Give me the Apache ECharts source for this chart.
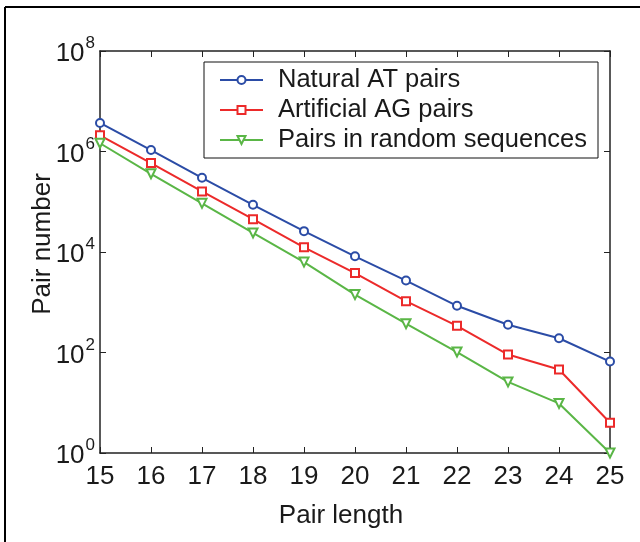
<!DOCTYPE html>
<html>
<head>
<meta charset="utf-8">
<script src="https://cdn.jsdelivr.net/npm/echarts@6/dist/echarts.min.js"></script>
<style>
  html, body { margin: 0; padding: 0; background: #fff; }
  #chart { width: 640px; height: 542px; }
</style>
</head>
<body>
<div id="chart"></div>
<script>
var pairLength = [15, 16, 17, 18, 19, 20, 21, 22, 23, 24, 25];
var naturalAT = [3.7e6, 1.07e6, 3.0e5, 8.7e4, 2.6e4, 8.2e3, 2.7e3, 850, 357, 192, 66];
var artificialAG = [2.1e6, 5.9e5, 1.6e5, 4.5e4, 1.24e4, 3.8e3, 1050, 340, 91, 46, 4];
var randomPairs = [1.46e6, 3.6e5, 9.3e4, 2.4e4, 6.3e3, 1.42e3, 375, 102, 26, 9.7, 1];
var seriesNames = ['Natural AT pairs', 'Artificial AG pairs', 'Pairs in random sequences'];

function toPoints(vals) {
    return pairLength.map(function (x, i) { return [x, vals[i]]; });
}

// 10^n style labels for the log axis
function powLabel(v) {
    var e = Math.round(Math.log(v) / Math.LN10);
    return '{b|10}{s|' + e + '}';
}

var font = 'Liberation Sans, Arial, Helvetica, sans-serif';
var axisCol = '#222';
var txtCol = '#1a1a1a';

var myChart = echarts.init(document.getElementById('chart'));
var option = {
    backgroundColor: '#fff',
    animation: false,
    textStyle: { fontFamily: font, color: txtCol },
    grid: { left: 100, right: 30, top: 51, bottom: 89 },
    legend: {
        data: seriesNames,
        orient: 'vertical',
        left: 204,
        top: 62,
        padding: [5, 11, 5, 15],
        itemGap: 4,
        itemWidth: 43,
        itemHeight: 10,
        borderColor: '#111',
        borderWidth: 1,
        textStyle: { fontSize: 25.5, color: txtCol, fontFamily: font, lineHeight: 26, padding: [0, 0, 0, 10] }
    },
    xAxis: [
        {
            type: 'value', min: 15, max: 25, interval: 1,
            name: 'Pair length', nameLocation: 'middle', nameGap: 50,
            nameTextStyle: { fontSize: 26, color: txtCol, fontFamily: font, padding: [0, 28, 0, 0] },
            axisLine: { lineStyle: { color: axisCol, width: 1.5 } },
            axisTick: { inside: true, length: 6, lineStyle: { color: axisCol } },
            axisLabel: { fontSize: 26, color: txtCol, margin: 11, fontFamily: font },
            splitLine: { show: false }
        },
        {
            type: 'value', min: 15, max: 25, interval: 1, position: 'top',
            axisLine: { show: true, lineStyle: { color: axisCol, width: 1.5 } },
            axisTick: { inside: true, length: 6, lineStyle: { color: axisCol } },
            axisLabel: { show: false },
            splitLine: { show: false }
        }
    ],
    yAxis: [
        {
            type: 'log', logBase: 100, min: 1, max: 1e8,
            name: 'Pair number', nameLocation: 'middle', nameGap: 44, nameRotate: 90,
            nameMoveOverlap: false,
            nameTextStyle: { fontSize: 26, color: txtCol, fontFamily: font, padding: [0, 0, 0, 16] },
            axisLine: { show: true, lineStyle: { color: axisCol, width: 1.5 } },
            axisTick: { show: true, inside: true, length: 6, lineStyle: { color: axisCol } },
            axisLabel: {
                margin: 5,
                formatter: powLabel,
                rich: {
                    b: { fontSize: 26, lineHeight: 32, verticalAlign: 'bottom', color: txtCol, fontFamily: font },
                    s: { fontSize: 17, lineHeight: 18, verticalAlign: 'top', color: txtCol, fontFamily: font, padding: [0, 0, 0, 1] }
                }
            },
            splitLine: { show: false }
        },
        {
            type: 'log', logBase: 100, min: 1, max: 1e8, position: 'right',
            axisLine: { show: true, lineStyle: { color: axisCol, width: 1.5 } },
            axisTick: { show: true, inside: true, length: 6, lineStyle: { color: axisCol } },
            axisLabel: { show: false },
            splitLine: { show: false }
        }
    ],
    graphic: [
        { type: 'line', shape: { x1: 5, y1: 7, x2: 640, y2: 7 }, style: { stroke: '#000', lineWidth: 2 } },
        { type: 'line', shape: { x1: 5, y1: 7, x2: 5, y2: 542 }, style: { stroke: '#000', lineWidth: 2 } }
    ],
    series: [
        {
            name: seriesNames[0], type: 'line', data: toPoints(naturalAT),
            symbol: 'emptyCircle', symbolSize: 8,
            itemStyle: { color: '#2b4ca6', borderWidth: 1.5 },
            lineStyle: { color: '#2b4ca6', width: 2 }
        },
        {
            name: seriesNames[1], type: 'line', data: toPoints(artificialAG),
            symbol: 'emptyRect', symbolSize: 8,
            itemStyle: { color: '#ec2a2a', borderWidth: 1.5 },
            lineStyle: { color: '#ec2a2a', width: 2 }
        },
        {
            name: seriesNames[2], type: 'line', data: toPoints(randomPairs),
            symbol: 'emptyTriangle', symbolSize: 9, symbolRotate: 180,
            itemStyle: { color: '#5ab646', borderWidth: 1.5 },
            lineStyle: { color: '#5ab646', width: 2 }
        }
    ]
};
myChart.setOption(option);
</script>
</body>
</html>
